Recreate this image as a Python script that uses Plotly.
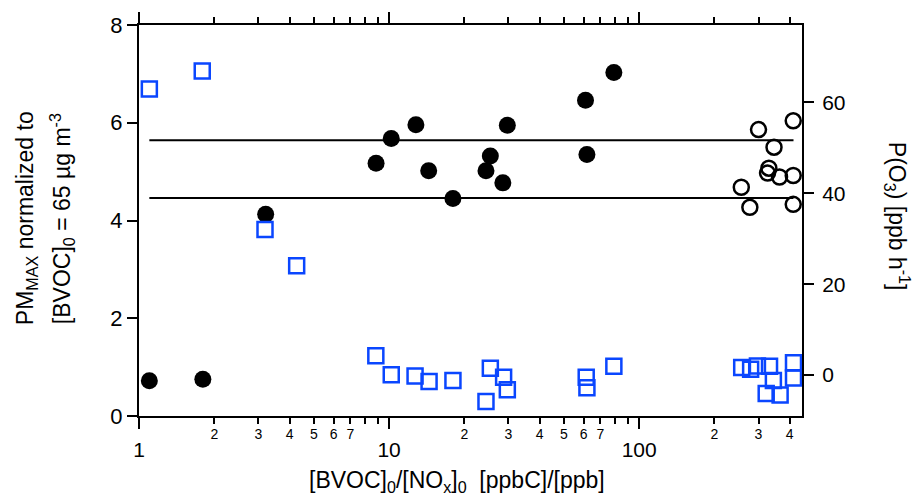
import plotly.graph_objects as go

# ---- data ----
pm_filled_x = [1.10, 1.80, 3.21, 8.87, 10.2, 12.8, 14.4, 18.0, 24.4, 25.4, 28.5, 29.7, 61.0, 61.8, 79.2]
pm_filled_y = [0.72, 0.75, 4.13, 5.17, 5.68, 5.96, 5.02, 4.45, 5.02, 5.32, 4.77, 5.95, 6.46, 5.35, 7.03]

pm_open_x = [413, 300, 346, 330, 326, 364, 413, 256, 277, 413]
pm_open_y = [6.04, 5.86, 5.50, 5.07, 4.97, 4.89, 4.92, 4.68, 4.27, 4.33]

po3_x = [1.10, 1.79, 3.19, 4.27, 8.85, 10.2, 12.7, 14.45, 18.0, 24.4, 25.4, 28.7, 29.7,
         61.4, 61.8, 79.2, 257, 279, 297, 332, 344, 322, 366, 414, 414]
po3_y = [62.9, 66.9, 32.0, 24.05, 4.25, 0.07, -0.2, -1.4, -1.2, -5.8, 1.5, -0.5, -3.2,
         -0.5, -2.8, 1.95, 1.65, 1.3, 2.0, 1.95, -1.2, -4.05, -4.4, 2.7, -0.65]

band_x = [1.1, 414]
band_upper = [5.64, 5.64]
band_lower = [4.46, 4.46]

major_ticks = [1, 10, 100]
major_labels = ["1", "10", "100"]
minor_ticks = [2, 3, 4, 5, 6, 7, 8, 9, 20, 30, 40, 50, 60, 70, 80, 90, 200, 300, 400]
minor_label_ticks = [2, 3, 4, 5, 6, 7, 20, 30, 40, 50, 60, 70, 200, 300, 400]
minor_labels = ["2", "3", "4", "5", "6", "7", "2", "3", "4", "5", "6", "7", "2", "3", "4"]

left_ticks = [0, 2, 4, 6, 8]
right_ticks = [0, 20, 40, 60]

FONT = "Liberation Sans, Arial, sans-serif"
BLUE = "#0a46ff"
xr = [0, 2.651]

fig = go.Figure()

# band lines drawn on the (identical) overlay x axis so that axis gets drawn
fig.add_trace(go.Scatter(x=band_x, y=band_upper, mode="lines",
                         line=dict(color="black", width=2), xaxis="x2", yaxis="y"))
fig.add_trace(go.Scatter(x=band_x, y=band_lower, mode="lines",
                         line=dict(color="black", width=2), xaxis="x2", yaxis="y"))
fig.add_trace(go.Scatter(x=po3_x, y=po3_y, mode="markers",
                         marker=dict(symbol="square-open", size=15, color=BLUE,
                                     line=dict(color=BLUE, width=2.5)),
                         xaxis="x", yaxis="y2"))
fig.add_trace(go.Scatter(x=pm_filled_x, y=pm_filled_y, mode="markers",
                         marker=dict(symbol="circle", size=17, color="black"),
                         xaxis="x", yaxis="y"))
fig.add_trace(go.Scatter(x=pm_open_x, y=pm_open_y, mode="markers",
                         marker=dict(symbol="circle-open", size=15, color="black",
                                     line=dict(color="black", width=2.5)),
                         xaxis="x", yaxis="y"))

fig.update_layout(
    width=919, height=501,
    margin=dict(l=139, r=117, t=19, b=85),
    paper_bgcolor="white", plot_bgcolor="white",
    showlegend=False,
    font=dict(family=FONT, color="black"),
    xaxis=dict(type="log", range=xr, showgrid=False, zeroline=False,
               showline=True, linecolor="black", linewidth=2, mirror="ticks",
               tickmode="array", tickvals=major_ticks, ticktext=major_labels,
               ticks="outside", ticklen=11, tickwidth=1.5, tickcolor="black",
               tickfont=dict(size=21, family=FONT), ticklabelstandoff=3,
               minor=dict(tickmode="array", tickvals=minor_ticks, ticks="outside",
                          ticklen=6, tickwidth=1.5, tickcolor="black", showgrid=False)),
    xaxis2=dict(type="log", range=xr, overlaying="x", anchor="y", side="bottom",
                showgrid=False, zeroline=False, showline=False,
                tickmode="array", tickvals=minor_label_ticks, ticktext=minor_labels,
                ticks="", tickfont=dict(size=14, family=FONT), ticklabelstandoff=8),
    yaxis=dict(range=[0, 8], showgrid=False, zeroline=False,
               showline=True, linecolor="black", linewidth=2,
               tickmode="array", tickvals=left_ticks,
               ticks="outside", ticklen=10, tickwidth=1.5, tickcolor="black",
               tickfont=dict(size=22, family=FONT)),
    yaxis2=dict(range=[-9, 77], overlaying="y", side="right", anchor="x",
                showgrid=False, zeroline=False,
                showline=True, linecolor="black", linewidth=2,
                tickmode="array", tickvals=right_ticks,
                ticks="outside", ticklen=10, tickwidth=1.5, tickcolor="black",
                tickfont=dict(size=21, family=FONT), ticklabelstandoff=4),
)

def px_x(p):
    return (p - 139) / 662.7

def px_y(p):
    return (415.7 - p) / 396.7

fig.add_annotation(text="PM<sub>MAX</sub> normalized to",
                   xref="paper", yref="paper", x=px_x(26), y=px_y(215),
                   xanchor="center", yanchor="middle", textangle=-90, showarrow=False,
                   font=dict(size=23, family=FONT))
fig.add_annotation(text="[BVOC]<sub>0</sub> = 65 µg m<sup>-3</sup>",
                   xref="paper", yref="paper", x=px_x(62), y=px_y(215),
                   xanchor="center", yanchor="middle", textangle=-90, showarrow=False,
                   font=dict(size=23, family=FONT))
fig.add_annotation(text="P(O<sub>3</sub>) [ppb h<sup>-1</sup>]",
                   xref="paper", yref="paper", x=px_x(897), y=px_y(213),
                   xanchor="center", yanchor="middle", textangle=90, showarrow=False,
                   font=dict(size=23, family=FONT))
fig.add_annotation(text="[BVOC]<sub>0</sub>/[NO<sub>x</sub>]<sub>0</sub>&nbsp;&nbsp;[ppbC]/[ppb]",
                   xref="paper", yref="paper", x=px_x(457), y=px_y(482),
                   xanchor="center", yanchor="middle", showarrow=False,
                   font=dict(size=23, family=FONT))

fig.write_html("out.html", config={"displayModeBar": False},
               post_script="document.body.style.margin='0';")
